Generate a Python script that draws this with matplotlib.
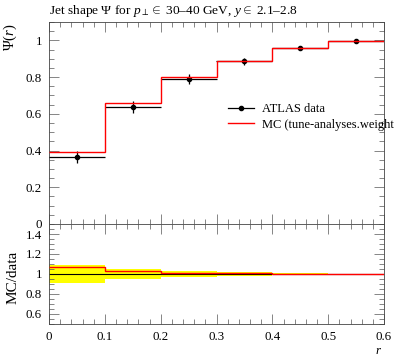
import numpy as np
import matplotlib
matplotlib.use("Agg")
import matplotlib.pyplot as plt
from matplotlib.ticker import MultipleLocator
from matplotlib.lines import Line2D

plt.rcParams['font.family'] = ['Liberation Serif', 'DejaVu Serif']
plt.rcParams['mathtext.fontset'] = 'custom'
plt.rcParams['mathtext.rm'] = 'Liberation Serif'
plt.rcParams['mathtext.it'] = 'Liberation Serif:italic'

# Data
edges = [0.0, 0.1, 0.2, 0.3, 0.4, 0.5, 0.6]
data_vals = [0.364, 0.638, 0.791, 0.885, 0.956, 0.998]
data_errs = [0.031, 0.032, 0.027, 0.019, 0.010, 0.003]
mc_vals = [0.391, 0.658, 0.800, 0.890, 0.958, 0.999]
series_labels = ['ATLAS data', 'MC (tune-analyses.weight']

edges_a = np.array(edges)
centers = 0.5 * (edges_a[:-1] + edges_a[1:])
halfw = 0.5 * np.diff(edges_a)
dv = np.array(data_vals)
de = np.array(data_errs)
mv = np.array(mc_vals)

W, H = 397, 358
fig = plt.figure(figsize=(W / 100, H / 100), dpi=100)
L, R = 49 / W, 384 / W
ax = fig.add_axes([L, 1 - 224 / H, R - L, (224 - 22) / H])
axr = fig.add_axes([L, 1 - 324 / H, R - L, (324 - 224) / H], sharex=ax)

fs = 9.3

# main panel
ax.errorbar(centers, dv, xerr=halfw, yerr=de, fmt='o', color='black',
            ms=3, lw=0.9, capsize=0, zorder=3)
ax.stairs(mv, edges_a, color='red', lw=1.0, baseline=None, zorder=4)
ax.set_xlim(0, 0.6)
ax.set_ylim(0, 1.1)
ax.yaxis.set_minor_locator(MultipleLocator(0.05))
ax.xaxis.set_major_locator(MultipleLocator(0.1))
ax.xaxis.set_minor_locator(MultipleLocator(0.02))
ax.set_yticks([0, 0.2, 0.4, 0.6, 0.8, 1.0])
ax.set_yticklabels(['0', '0.2', '0.4', '0.6', '0.8', '1'])
ax.tick_params(labelbottom=False)

h = [Line2D([], [], color='black', marker='o', ms=3, lw=0.9),
     Line2D([], [], color='red', lw=1.0)]
ax.legend(h, series_labels, loc='upper left',
          bbox_to_anchor=((228 - 49) / 335, (224 - 103) / 202),
          frameon=False, fontsize=9.0, handlelength=2.1, handletextpad=0.6,
          borderaxespad=0, borderpad=0, labelspacing=0.3)

ax.set_title(r'Jet shape $\Psi$ for $p_\perp \in$ 30–40 GeV, $y \in$ 2.1–2.8',
             loc='left', fontsize=9.6, pad=6)

# ratio panel
rel = de / dv
axr.stairs(1 + rel, edges_a, baseline=1 - rel, fill=True, color='#ffff00', lw=0, zorder=1)
axr.stairs(np.ones_like(dv), edges_a, baseline=None, color='black', lw=0.8, zorder=2)
axr.stairs(mv / dv, edges_a, baseline=None, color='red', lw=1.0, zorder=3)
axr.set_ylim(0.5, 1.5)
axr.set_yticks([0.6, 0.8, 1.0, 1.2, 1.4])
axr.set_yticklabels(['0.6', '0.8', '1', '1.2', '1.4'])
axr.yaxis.set_minor_locator(MultipleLocator(0.05))
axr.set_xticks([0, 0.1, 0.2, 0.3, 0.4, 0.5, 0.6])
axr.set_xticklabels(['0', '0.1', '0.2', '0.3', '0.4', '0.5', '0.6'])
axr.xaxis.set_minor_locator(MultipleLocator(0.02))

for a in (ax, axr):
    a.tick_params(which='both', direction='in', top=True, right=True,
                  labelsize=fs, width=0.5, color='#555555', pad=5)
    a.tick_params(which='major', length=7)
    a.tick_params(which='minor', length=3.5)
    for s in a.spines.values():
        s.set_linewidth(0.6)
        s.set_color('#444444')
axr.tick_params(axis='x', pad=5)

fig.text(10 / W, 1 - 23 / H, r'$\Psi(r)$', rotation=90, ha='center', va='top', fontsize=10.5)
fig.text(13 / W, 1 - 277 / H, 'MC/data', rotation=90, ha='center', va='center', fontsize=11)
fig.text(382 / W, 1 - 351 / H, r'$r$', ha='right', va='center', fontsize=fs)

fig.savefig('out.png', dpi=100)
